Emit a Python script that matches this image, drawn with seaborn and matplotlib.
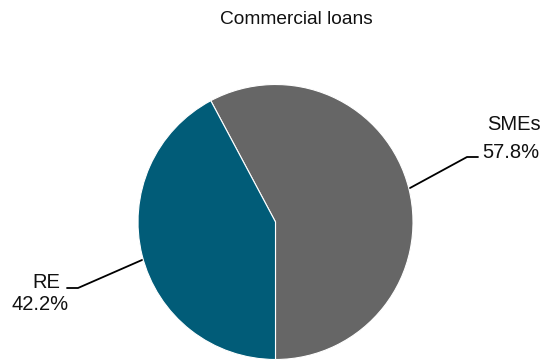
import matplotlib
matplotlib.use("Agg")
import matplotlib.pyplot as plt
import seaborn as sns

sns.set_theme(style="white")
plt.rcParams['font.family'] = ['Liberation Sans', 'DejaVu Sans']

categories = ["SMEs", "RE"]
values = [57.8, 42.2]
colors = ["#666666", "#015c78"]
title = "Commercial loans"

W, H = 548, 360
fig = plt.figure(figsize=(W / 100, H / 100), dpi=100)
ax = fig.add_axes([0, 0, 1, 1])

cx, cy, R = 275.5, 222.0, 137.5
def px(x, y):
    return ((x - cx) / R, (cy - y) / R)

# RE wedge ends pointing straight down; SMEs drawn clockwise first
start = 270 - 360 * values[1] / sum(values)
ax.pie(values, colors=colors, startangle=start, counterclock=False,
       radius=1.0, center=(0, 0),
       wedgeprops=dict(edgecolor="white", linewidth=0.8))
ax.set_xlim(-cx / R, (W - cx) / R)
ax.set_ylim(-(H - cy) / R, cy / R)
ax.set_aspect('auto')
ax.axis('off')

# leader lines
l1 = [px(410, 188), px(467, 157), px(478, 157)]
ax.plot([p[0] for p in l1], [p[1] for p in l1], color="black", lw=1.3)
l2 = [px(142, 260), px(78, 288), px(67, 288)]
ax.plot([p[0] for p in l2], [p[1] for p in l2], color="black", lw=1.3)

fs = 14.5
tc = "#111111"
x, y = px(514, 125)
ax.text(x, y, categories[0], ha="center", va="center", fontsize=fs, color=tc)
x, y = px(511, 152)
ax.text(x, y, f"{values[0]:.1f}%", ha="center", va="center", fontsize=fs, color=tc)
x, y = px(46, 282)
ax.text(x, y, categories[1], ha="center", va="center", fontsize=fs, color=tc)
x, y = px(40, 305)
ax.text(x, y, f"{values[1]:.1f}%", ha="center", va="center", fontsize=fs, color=tc)

fig.text(296 / W, 1 - 20 / H, title, ha="center", va="center", fontsize=13.8, color=tc)

fig.savefig("out.png", dpi=100, facecolor="white")
